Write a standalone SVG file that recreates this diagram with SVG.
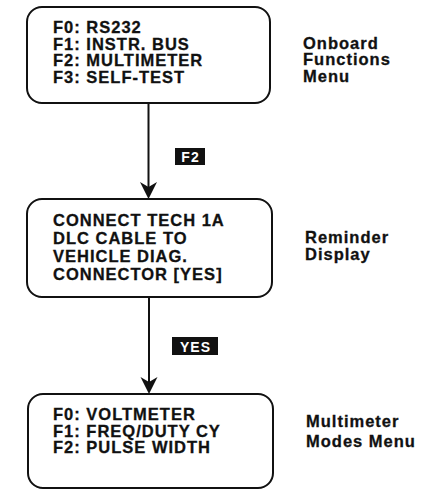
<svg xmlns="http://www.w3.org/2000/svg" width="423" height="490" viewBox="0 0 423 490">
<style>
.box{fill:#fff;stroke:#111;stroke-width:2}
.t{font-family:"Liberation Sans",Arial,Helvetica,sans-serif;font-weight:bold;font-size:16.5px;letter-spacing:1px;fill:#111;stroke:#111;stroke-width:0.3}
.k{font-family:"Liberation Sans",Arial,Helvetica,sans-serif;font-weight:bold;font-size:14px;letter-spacing:1px;fill:#fff}
.line{stroke:#111;stroke-width:2;fill:none}
.head{fill:#111}
</style>
<rect width="423" height="490" fill="#fff"/>
<g id="connectors">
<line class="line" x1="148.5" y1="103" x2="148.5" y2="190"/>
<path class="head" d="M140,182 L148.5,187 L157,182 L148.5,199 Z"/>
<line class="line" x1="149" y1="297" x2="149" y2="385"/>
<path class="head" d="M140.5,377 L149,382 L157.5,377 L149,394 Z"/>
</g>
<g id="key-f2">
<rect x="175" y="148" width="30" height="17" fill="#111"/>
<text class="k" x="190.5" y="162" text-anchor="middle">F2</text>
</g>
<g id="key-yes">
<rect x="172" y="337" width="46" height="18" fill="#111"/>
<text class="k" x="195.5" y="351.5" text-anchor="middle">YES</text>
</g>
<g id="node-onboard">
<rect class="box" x="27" y="7" width="243" height="96" rx="15"/>
<text class="t" x="53" y="33">F0: RS232</text>
<text class="t" x="53" y="49.5">F1: INSTR. BUS</text>
<text class="t" x="53" y="66">F2: MULTIMETER</text>
<text class="t" x="53" y="82.5">F3: SELF-TEST</text>
<text class="t" x="303" y="48.5">Onboard</text>
<text class="t" x="303" y="65">Functions</text>
<text class="t" x="303" y="82">Menu</text>
</g>
<g id="node-reminder">
<rect class="box" x="27" y="199" width="245" height="98" rx="15"/>
<text class="t" x="53" y="226">CONNECT TECH 1A</text>
<text class="t" x="53" y="244">DLC CABLE TO</text>
<text class="t" x="53" y="262">VEHICLE DIAG.</text>
<text class="t" x="53" y="280">CONNECTOR [YES]</text>
<text class="t" x="305" y="243">Reminder</text>
<text class="t" x="305" y="260">Display</text>
</g>
<g id="node-multimeter">
<rect class="box" x="28" y="394" width="245" height="94" rx="15"/>
<text class="t" x="53" y="420">F0: VOLTMETER</text>
<text class="t" x="53" y="436.5">F1: FREQ/DUTY CY</text>
<text class="t" x="53" y="453">F2: PULSE WIDTH</text>
<text class="t" x="306" y="427">Multimeter</text>
<text class="t" x="306" y="447">Modes Menu</text>
</g>
</svg>
